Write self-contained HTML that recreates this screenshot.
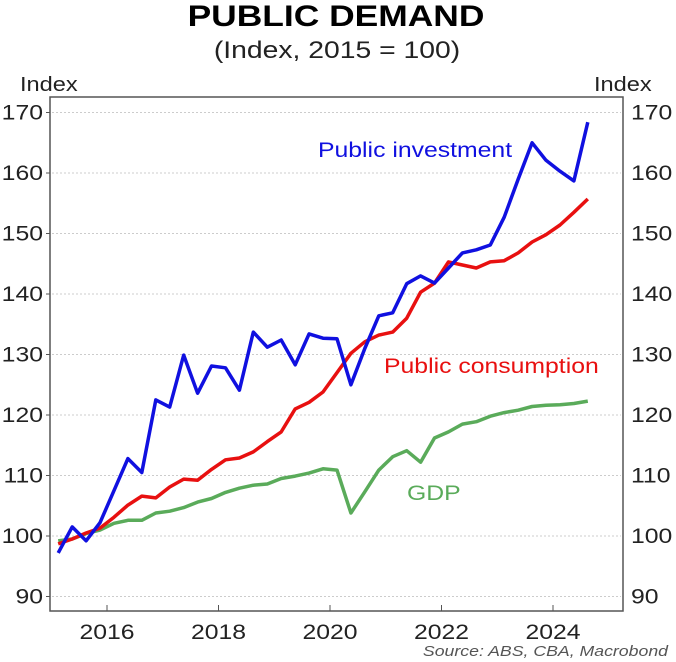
<!DOCTYPE html>
<html><head><meta charset="utf-8"><style>
html,body{margin:0;padding:0;background:#fff;}
svg{display:block;font-family:"Liberation Sans",Arial,sans-serif;}
</style></head><body>
<svg id="chart" width="676" height="662" viewBox="0 0 676 662">
<text x="336" y="26" text-anchor="middle" font-size="30" font-weight="bold" fill="#000">PUBLIC DEMAND</text>
<text x="337" y="58" text-anchor="middle" font-size="24" fill="#222">(Index, 2015 = 100)</text>
<text x="20" y="91" font-size="20" fill="#222">Index</text>
<text x="594" y="91" font-size="20" fill="#222">Index</text>
<g id="grid"></g>
<g id="ticks"></g>
<g id="series"></g>
<rect x="50" y="97" width="573" height="514" fill="none" stroke="#555" stroke-width="1.5"/>
<text x="318" y="157" font-size="21" fill="#1010e0">Public investment</text>
<text x="384" y="373" font-size="21" fill="#e81010">Public consumption</text>
<text x="407" y="500" font-size="21" fill="#5aab5a">GDP</text>
<text x="668" y="656" text-anchor="end" font-size="15" font-style="italic" fill="#555">Source: ABS, CBA, Macrobond</text>
</svg>
<script>
const startYear = 2015.125;
const yTicks = [90,100,110,120,130,140,150,160,170];
const xTicks = [2016,2018,2020,2022,2024];
const investment = [97.2,101.5,99.2,102.2,107.5,112.8,110.5,122.5,121.3,129.9,123.6,128.1,127.8,124.1,133.7,131.2,132.4,128.3,133.4,132.7,132.6,125.0,131.0,136.4,136.9,141.7,143.0,141.8,144.3,146.8,147.3,148.1,152.7,159.0,165.0,162.1,160.3,158.7,168.4];
const consumption = [98.7,99.5,100.5,101.3,103.1,105.1,106.6,106.3,108.1,109.4,109.2,111.0,112.6,112.9,113.9,115.6,117.2,121.0,122.1,123.8,127.0,130.2,132.1,133.2,133.7,136.0,140.3,141.8,145.3,144.8,144.3,145.3,145.5,146.8,148.6,149.8,151.4,153.5,155.7];
const gdp = [99.2,99.5,100.4,101.0,102.1,102.6,102.6,103.8,104.1,104.7,105.6,106.2,107.2,107.9,108.4,108.6,109.5,109.9,110.4,111.1,110.9,103.8,107.3,110.9,113.1,114.1,112.2,116.2,117.2,118.5,118.9,119.8,120.4,120.8,121.4,121.6,121.7,121.9,122.3];

const NS='http://www.w3.org/2000/svg';
function xs(yr){return 107+(yr-2016)*55.75;}
function ys(v){return 536-(v-100)*6.05;}
function mk(tag,attrs,parent){const e=document.createElementNS(NS,tag);for(const k in attrs)e.setAttribute(k,attrs[k]);parent.appendChild(e);return e;}
const grid=document.getElementById('grid'),ticks=document.getElementById('ticks'),series=document.getElementById('series');
yTicks.forEach(v=>{
  const g=mk('line',{x1:52,x2:621,y1:ys(v),y2:ys(v),stroke:'#ccc','stroke-width':1,'stroke-dasharray':'2,2'},grid);
  
  
  const t1=mk('line',{x1:50,x2:46,y1:ys(v),y2:ys(v),stroke:'#555'},ticks);
  
  
  const l=mk('text',{x:43,y:ys(v)+7,'text-anchor':'end','font-size':21,fill:'#222'},ticks);l.textContent=v;
  
  
  const r=mk('text',{x:631,y:ys(v)+7,'font-size':21,fill:'#222'},ticks);r.textContent=v;
  
  
});
xTicks.forEach(yr=>{
  const t=mk('line',{x1:xs(yr),x2:xs(yr),y1:611,y2:605,stroke:'#555'},ticks);
  
  
  const l=mk('text',{x:xs(yr),y:639,'text-anchor':'middle','font-size':21,fill:'#222'},ticks);l.textContent=yr;
  
  
});
function line(arr,color,name){
  const pts=arr.map((v,i)=>xs(startYear+i*0.25).toFixed(1)+','+ys(v).toFixed(1)).join(' ');
  const p=mk('polyline',{points:pts,fill:'none',stroke:color,'stroke-width':3.5,'stroke-linejoin':'round'},series);
  
  
}
line(gdp,'#5aab5a','gdp-line');
line(consumption,'#e81010','public-consumption-line');
line(investment,'#1010e0','public-investment-line');
// horizontal stretch of text to match reference typeface width
const S=1.18;
document.querySelectorAll('#chart text').forEach(t=>{
  const x=parseFloat(t.getAttribute('x'));
  t.setAttribute('transform','translate('+(x*(1-S)).toFixed(2)+',0) scale('+S+',1)');
});
</script>
</body></html>
